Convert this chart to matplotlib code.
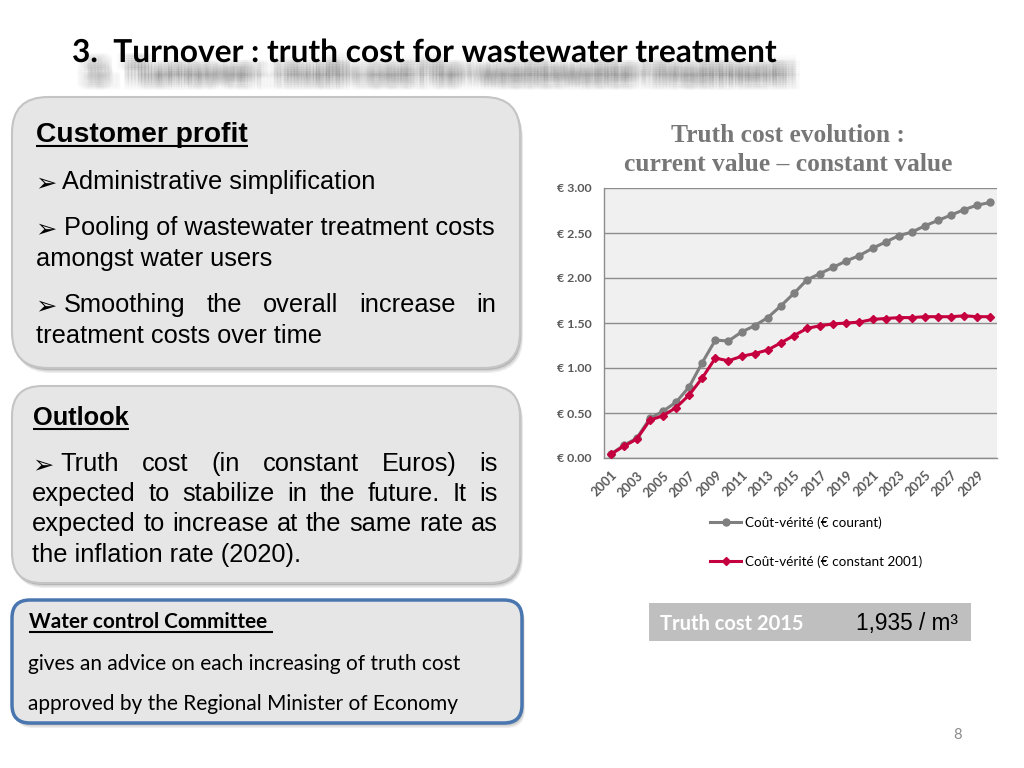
import matplotlib
matplotlib.use('Agg')
import matplotlib.pyplot as plt
import matplotlib.patheffects as pe
from matplotlib.patches import FancyBboxPatch, Rectangle

# ---------------- data ----------------
years = list(range(2001, 2031))
current_value = [0.04, 0.14, 0.22, 0.44, 0.52, 0.62, 0.79, 1.06, 1.31, 1.30,
                 1.40, 1.47, 1.56, 1.69, 1.83, 1.98, 2.05, 2.12, 2.19, 2.25,
                 2.33, 2.40, 2.47, 2.51, 2.58, 2.64, 2.70, 2.76, 2.81, 2.84]
constant_value = [0.04, 0.13, 0.21, 0.42, 0.47, 0.56, 0.70, 0.89, 1.11, 1.08,
                  1.13, 1.16, 1.20, 1.28, 1.36, 1.44, 1.47, 1.49, 1.50, 1.51,
                  1.54, 1.55, 1.56, 1.56, 1.57, 1.57, 1.57, 1.58, 1.57, 1.57]
tick_years = list(range(2001, 2030, 2))
y_ticks = [0.0, 0.5, 1.0, 1.5, 2.0, 2.5, 3.0]
y_tick_labels = ['€ 0.00', '€ 0.50', '€ 1.00', '€ 1.50', '€ 2.00', '€ 2.50', '€ 3.00']
series_labels = ['Coût-vérité (€ courant)', 'Coût-vérité (€ constant 2001)']
chart_title = ['Truth cost evolution :', 'current value – constant value']

GRAY = '#7f7f7f'
RED = '#c5003e'

SANS = ['Liberation Sans', 'DejaVu Sans']
CAL = ['Lato', 'DejaVu Sans']
SERIF = ['Liberation Serif', 'DejaVu Serif']

fig = plt.figure(figsize=(10.24, 7.68), dpi=100)
fig.patch.set_facecolor('white')
bg = fig.add_axes([0, 0, 1, 1])
bg.set_xlim(0, 1024)
bg.set_ylim(768, 0)
bg.axis('off')
renderer = fig.canvas.get_renderer()


def width_of(t):
    return t.get_window_extent(renderer).width


def fit_text(x, y, s, width, size=20, **kw):
    t = bg.text(x, y, s, fontsize=size, **kw)
    w = width_of(t)
    t.set_fontsize(size * width / w)
    return t


def justify(words, x0, x1, y, size, family, color='black'):
    ts = [bg.text(0, y, w, fontsize=size, family=family, color=color, va='baseline') for w in words]
    ws = [width_of(t) for t in ts]
    gap = (x1 - x0 - sum(ws)) / (len(words) - 1)
    x = x0
    for t, w in zip(ts, ws):
        t.set_x(x)
        x += w + gap


def arrow(x, y, size):
    bg.text(x, y + 1, '➢', fontsize=size * 1.0, family=['DejaVu Sans'], va='baseline', color='black')


def underline(t, y, lw=1.5, color='black', extra=0):
    bb = t.get_window_extent(renderer)
    bg.plot([bb.x0, bb.x1 + extra], [y, y], color=color, lw=lw, solid_capstyle='butt')


def box(x0, y0, x1, y1, r, edge='#c4c4c4', lw=1.5):
    for i, a in enumerate([0.10, 0.15, 0.25]):
        o = 5 - i * 1.5
        bg.add_patch(FancyBboxPatch((x0 + o * 0.6, y0 + o), x1 - x0, y1 - y0,
                                    boxstyle=f'round,pad=0,rounding_size={r}',
                                    fc='#555555', ec='none', alpha=a))
    bg.add_patch(FancyBboxPatch((x0, y0), x1 - x0, y1 - y0,
                                boxstyle=f'round,pad=0,rounding_size={r}',
                                fc='#e6e6e6', ec=edge, lw=lw))


# ---------------- title (with blurred reflection shadow) ----------------
title = '3.  Turnover : truth cost for wastewater treatment'
shadow_fx = []
steps = (-6, -4, -2, 0, 2, 4, 6)
for dx in steps:
    for dy in steps:
        shadow_fx.append(pe.SimplePatchShadow(offset=(10 + dx * 1.2, -15 + dy * 0.8),
                                              shadow_rgbFace='#404040', alpha=0.018))
shadow_fx.append(pe.Normal())
tt = fit_text(72, 62, title, 703, size=22, family=CAL, weight='bold', va='baseline')
tt.set_path_effects(shadow_fx)

# ---------------- left boxes ----------------
box(12, 97, 520, 368, 36)
box(12, 386, 520, 583, 30)
box(12, 600, 522, 723, 18, edge='#4a76b0', lw=2.5)

t = fit_text(36, 142, 'Customer profit', 212, family=SANS, weight='bold', va='baseline')
underline(t, 146)
ref = bg.text(36, 266, 'amongst water users', fontsize=17, family=SANS, va='baseline')
bsz = 17 * 236 / width_of(ref)
ref.set_fontsize(bsz)
arrow(35, 189, bsz)
bg.text(62, 189, 'Administrative simplification', fontsize=bsz, family=SANS, va='baseline')
arrow(35, 235, bsz)
bg.text(64, 235, 'Pooling of wastewater treatment costs', fontsize=bsz, family=SANS, va='baseline')
arrow(35, 312, bsz)
justify(['Smoothing', 'the', 'overall', 'increase', 'in'], 64, 496, 312, bsz, SANS)
bg.text(36, 343, 'treatment costs over time', fontsize=bsz, family=SANS, va='baseline')

t = bg.text(33, 425, 'Outlook', fontsize=bsz, family=SANS, weight='bold', va='baseline')
underline(t, 429)
arrow(32, 471, bsz)
justify(['Truth', 'cost', '(in', 'constant', 'Euros)', 'is'], 60, 498, 471, bsz, SANS)
justify(['expected', 'to', 'stabilize', 'in', 'the', 'future.', 'It', 'is'], 32, 498, 501, bsz, SANS)
justify(['expected', 'to', 'increase', 'at', 'the', 'same', 'rate', 'as'], 32, 498, 531, bsz, SANS)
bg.text(32, 562, 'the inflation rate (2020).', fontsize=bsz, family=SANS, va='baseline')

t = fit_text(29, 628, 'Water control Committee', 238, family=CAL, weight='bold', va='baseline')
underline(t, 632, extra=6)
fit_text(28, 670, 'gives an advice on each increasing of truth cost', 434, family=CAL, va='baseline')
fit_text(28, 710, 'approved by the Regional Minister of Economy', 431, family=CAL, va='baseline')

# ---------------- chart title ----------------
fit_text(788, 142, chart_title[0], 234, family=SERIF, weight='bold', color='#777777',
         ha='center', va='baseline')
fit_text(788, 171, chart_title[1], 329, family=SERIF, weight='bold', color='#777777',
         ha='center', va='baseline')

# ---------------- chart ----------------
ax = fig.add_axes([604 / 1024, 1 - 458 / 768, (997 - 604) / 1024, (458 - 188) / 768])
ax.set_facecolor('#f0f0f0')
ax.set_xlim(2000.5, 2030.5)
ax.set_ylim(0, 3)
ax.set_yticks(y_ticks)
ax.set_yticklabels(y_tick_labels, family=CAL, weight='bold', fontsize=8.9, color='#595959')
ax.set_xticks(tick_years)
ax.set_xticklabels([str(y) for y in tick_years], family=CAL, weight='bold', fontsize=9.3,
                   color='#595959', rotation=45, ha='right', va='top', rotation_mode='anchor')
ax.yaxis.grid(True, color='#8c8c8c', lw=1.0)
ax.set_axisbelow(True)
for s in ['top', 'right']:
    ax.spines[s].set_visible(False)
for s in ['left', 'bottom']:
    ax.spines[s].set_color('#8c8c8c')
    ax.spines[s].set_linewidth(1.0)
ax.tick_params(axis='y', length=0, pad=9)
ax.tick_params(axis='x', length=0, pad=8)

l1, = ax.plot(years, current_value, color=GRAY, lw=2.2, marker='o', ms=5, zorder=3)
l2, = ax.plot(years, constant_value, color=RED, lw=2.2, marker='D', ms=4.5, zorder=4)

fig.legend([l1, l2], series_labels, loc='center', bbox_to_anchor=(816 / 1024, 1 - 542 / 768),
           frameon=False, labelspacing=2.0, handlelength=2.3, handletextpad=0.25,
           prop={'family': CAL, 'size': 9.7})

# ---------------- truth cost box ----------------
bg.add_patch(Rectangle((649, 603), 322, 38, fc='#bfbfbf', ec='none'))
fit_text(660, 630, 'Truth cost 2015', 144, family=CAL, weight='bold', color='white', va='baseline')
fit_text(856, 630, '1,935 / m³', 102, family=SANS, color='black', va='baseline')

bg.text(957, 739, '8', fontsize=10.5, family=CAL, color='#8c8c8c', ha='center', va='baseline')

fig.savefig('out.png', dpi=100)
